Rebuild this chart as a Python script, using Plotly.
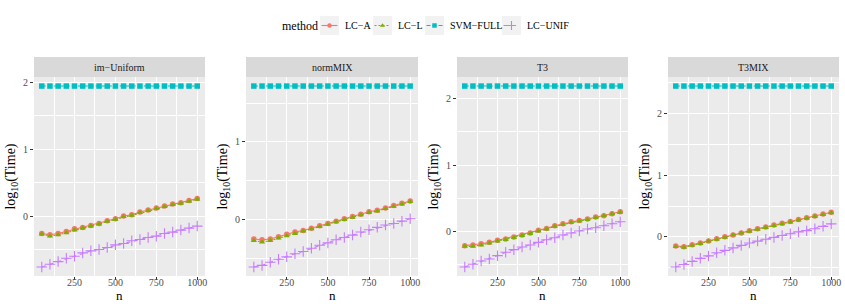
import plotly.graph_objects as go

n = [50, 100, 150, 200, 250, 300, 350, 400, 450, 500,
     550, 600, 650, 700, 750, 800, 850, 900, 950, 1000]

panels = ["im−Uniform", "normMIX", "T3", "T3MIX"]
methods = ["LC−A", "LC−L", "SVM−FULL", "LC−UNIF"]

# log10(Time) per panel, per method
im_uniform_lca = [-0.26, -0.28, -0.26, -0.23, -0.19, -0.17, -0.14, -0.11, -0.07, -0.04,
                  0.00, 0.02, 0.06, 0.09, 0.12, 0.15, 0.18, 0.20, 0.23, 0.26]
im_uniform_lcl = [-0.27, -0.30, -0.28, -0.25, -0.21, -0.18, -0.15, -0.12, -0.08, -0.05,
                  -0.01, 0.01, 0.05, 0.08, 0.11, 0.14, 0.17, 0.19, 0.22, 0.25]
im_uniform_svm = [1.94] * 20
im_uniform_unif = [-0.76, -0.72, -0.68, -0.63, -0.60, -0.55, -0.52, -0.50, -0.47, -0.43,
                   -0.41, -0.37, -0.35, -0.32, -0.30, -0.26, -0.24, -0.21, -0.18, -0.15]

normmix_lca = [-0.25, -0.26, -0.25, -0.22, -0.19, -0.16, -0.14, -0.11, -0.08, -0.05,
               -0.02, 0.01, 0.04, 0.07, 0.10, 0.12, 0.15, 0.18, 0.21, 0.24]
normmix_lcl = [-0.27, -0.29, -0.27, -0.24, -0.21, -0.18, -0.15, -0.12, -0.09, -0.06,
               -0.03, 0.00, 0.03, 0.06, 0.09, 0.11, 0.14, 0.17, 0.20, 0.23]
normmix_svm = [1.72] * 20
normmix_unif = [-0.61, -0.59, -0.55, -0.51, -0.48, -0.44, -0.41, -0.37, -0.33, -0.30,
                -0.26, -0.23, -0.20, -0.16, -0.13, -0.10, -0.07, -0.05, -0.02, 0.01]

t3_lca = [-0.21, -0.20, -0.18, -0.16, -0.13, -0.11, -0.08, -0.05, -0.02, 0.02,
          0.05, 0.09, 0.12, 0.15, 0.17, 0.19, 0.22, 0.24, 0.27, 0.30]
t3_lcl = [-0.22, -0.22, -0.20, -0.17, -0.14, -0.12, -0.09, -0.06, -0.03, 0.01,
          0.04, 0.08, 0.11, 0.14, 0.16, 0.18, 0.21, 0.24, 0.27, 0.29]
t3_svm = [2.19] * 20
t3_unif = [-0.53, -0.49, -0.44, -0.41, -0.36, -0.31, -0.27, -0.23, -0.20, -0.16,
           -0.12, -0.09, -0.05, -0.02, 0.01, 0.04, 0.06, 0.09, 0.12, 0.15]

t3mix_lca = [-0.15, -0.16, -0.13, -0.10, -0.07, -0.03, 0.00, 0.03, 0.06, 0.10,
             0.13, 0.16, 0.19, 0.22, 0.25, 0.28, 0.31, 0.34, 0.37, 0.40]
t3mix_lcl = [-0.16, -0.17, -0.14, -0.11, -0.07, -0.04, -0.01, 0.03, 0.06, 0.09,
             0.12, 0.15, 0.18, 0.21, 0.24, 0.27, 0.30, 0.33, 0.36, 0.39]
t3mix_svm = [2.45] * 20
t3mix_unif = [-0.49, -0.45, -0.40, -0.35, -0.31, -0.26, -0.22, -0.18, -0.14, -0.10,
              -0.07, -0.04, -0.01, 0.02, 0.05, 0.08, 0.10, 0.13, 0.17, 0.21]

data = {
    "im−Uniform": [im_uniform_lca, im_uniform_lcl, im_uniform_svm, im_uniform_unif],
    "normMIX": [normmix_lca, normmix_lcl, normmix_svm, normmix_unif],
    "T3": [t3_lca, t3_lcl, t3_svm, t3_unif],
    "T3MIX": [t3mix_lca, t3mix_lcl, t3mix_svm, t3mix_unif],
}

x_ticks = [250, 500, 750, 1000]
x_minor = [125, 375, 625, 875]
x_title = "n"
y_title = "log<sub>10</sub>(Time)"

colors = ["#F8766D", "#7CAE00", "#00BFC4", "#C77CFF"]
symbols = ["circle", "triangle-up", "square", "cross-thin"]
dashes = ["solid", "2px,2px", "4px,2px", "4px,4px"]

W, H = 845, 307
x_dom_px = [(34, 205), (246, 418), (457, 628), (668, 839)]
plot_top, plot_bot = 77, 276
strip_top = 57
x_title_y = 295
FONT = "Liberation Serif"

# legend layout (pixels)
leg_title_x = 280
leg_key_x = [320, 373, 425, 502]
leg_key_w = 19
leg_y0, leg_y1 = 16, 35


def px(x):
    return x / W


def py(y):
    return 1 - y / H


def marker_style(j, size):
    if symbols[j] == "cross-thin":
        return dict(color=colors[j], size=size + 2, symbol="cross-thin",
                    line=dict(color=colors[j], width=1.1))
    return dict(color=colors[j], size=size, symbol=symbols[j])


fig = go.Figure()

for i, p in enumerate(panels):
    ax = "" if i == 0 else str(i + 1)
    series = data[p]
    for j, m in enumerate(methods):
        fig.add_trace(go.Scatter(
            x=n, y=series[j], mode="lines+markers", name=m,
            showlegend=False,
            line=dict(color=colors[j], width=1.1, dash=dashes[j]),
            marker=marker_style(j, 5.5),
            xaxis="x" + ax, yaxis="y" + ax,
        ))
    allv = [v for s in series for v in s]
    lo, hi = min(allv), max(allv)
    pad = 0.05 * (hi - lo)
    yr = [lo - pad, hi + pad]
    ymaj = [v for v in [-1, 0, 1, 2, 3] if yr[0] <= v <= yr[1]]
    ymin = [v for v in [-0.5, 0.5, 1.5, 2.5] if yr[0] <= v <= yr[1]]
    x0, x1 = x_dom_px[i]
    xdom = [px(x0), px(x1)]
    ydom = [py(plot_bot), py(plot_top)]
    fig.layout["xaxis" + ax] = dict(
        domain=xdom, range=[2.5, 1047.5], anchor="y" + ax, automargin=False,
        tickvals=x_ticks, ticktext=[str(t) for t in x_ticks],
        showgrid=True, gridcolor="white", gridwidth=1.1,
        minor=dict(tickvals=x_minor, showgrid=True, gridcolor="white", gridwidth=0.5, ticks=""),
        ticks="outside", ticklen=3, tickcolor="#333333", tickwidth=1,
        ticklabelstandoff=-6,
        tickfont=dict(family=FONT, size=10, color="#4D4D4D"),
        zeroline=False, showline=False,
    )
    fig.layout["yaxis" + ax] = dict(
        domain=ydom, range=yr, anchor="x" + ax, automargin=False,
        tickvals=ymaj, ticktext=[str(v) for v in ymaj],
        showgrid=True, gridcolor="white", gridwidth=1.1,
        minor=dict(tickvals=ymin, showgrid=True, gridcolor="white", gridwidth=0.5, ticks=""),
        ticks="outside", ticklen=3, tickcolor="#333333", tickwidth=1,
        tickfont=dict(family=FONT, size=10, color="#4D4D4D"),
        title=dict(text=y_title, font=dict(family=FONT, size=14, color="black"), standoff=4),
        zeroline=False, showline=False,
    )
    fig.add_shape(type="rect", xref="paper", yref="paper",
                  x0=xdom[0], x1=xdom[1], y0=ydom[0], y1=ydom[1],
                  fillcolor="#EBEBEB", line=dict(width=0), layer="below")
    fig.add_shape(type="rect", xref="paper", yref="paper",
                  x0=xdom[0], x1=xdom[1], y0=py(plot_top), y1=py(strip_top),
                  fillcolor="#D9D9D9", line=dict(width=0), layer="below")
    fig.add_annotation(text=p, xref="paper", yref="paper",
                       x=(xdom[0] + xdom[1]) / 2, y=py((strip_top + plot_top) / 2),
                       showarrow=False, xanchor="center", yanchor="middle",
                       font=dict(family=FONT, size=10, color="#1A1A1A"))
    # x-axis title
    fig.add_annotation(text=x_title, xref="paper", yref="paper",
                       x=(xdom[0] + xdom[1]) / 2, y=py(x_title_y),
                       showarrow=False, xanchor="center", yanchor="middle",
                       font=dict(family=FONT, size=13, color="black"))

# manual ggplot-style legend
leg_yc = (leg_y0 + leg_y1) / 2
fig.add_annotation(text="method", xref="paper", yref="paper",
                   x=px(leg_title_x), y=py(leg_yc), showarrow=False,
                   xanchor="left", yanchor="middle",
                   font=dict(family=FONT, size=12, color="black"))
for j, m in enumerate(methods):
    kx = leg_key_x[j]
    fig.add_shape(type="rect", xref="paper", yref="paper",
                  x0=px(kx), x1=px(kx + leg_key_w), y0=py(leg_y1), y1=py(leg_y0),
                  fillcolor="#F2F2F2", line=dict(width=0), layer="below")
    fig.add_shape(type="line", xref="paper", yref="paper",
                  x0=px(kx + 1.5), x1=px(kx + leg_key_w - 1.5), y0=py(leg_yc), y1=py(leg_yc),
                  line=dict(color=colors[j], width=1.1, dash=dashes[j]), layer="below")
    fig.add_trace(go.Scatter(
        x=[kx + leg_key_w / 2], y=[leg_yc], mode="markers", name=m, showlegend=False,
        marker=marker_style(j, 4.5), xaxis="x5", yaxis="y5", hoverinfo="skip",
    ))
    fig.add_annotation(text=m, xref="paper", yref="paper",
                       x=px(kx + leg_key_w + 4), y=py(leg_yc), showarrow=False,
                       xanchor="left", yanchor="middle",
                       font=dict(family=FONT, size=10, color="black"))

fig.layout["xaxis5"] = dict(domain=[0, 1], range=[0, W], visible=False, fixedrange=True,
                            anchor="y5", automargin=False)
fig.layout["yaxis5"] = dict(domain=[0, 1], range=[H, 0], visible=False, fixedrange=True,
                            anchor="x5", automargin=False)

fig.update_layout(
    width=W, height=H,
    margin=dict(l=0, r=0, t=0, b=0, pad=0),
    paper_bgcolor="white", plot_bgcolor="rgba(0,0,0,0)",
    font=dict(family=FONT, size=10, color="black"),
    showlegend=False,
)

fig.write_html("out.html", config={"displayModeBar": False},
               post_script="document.body.style.margin='0';")
